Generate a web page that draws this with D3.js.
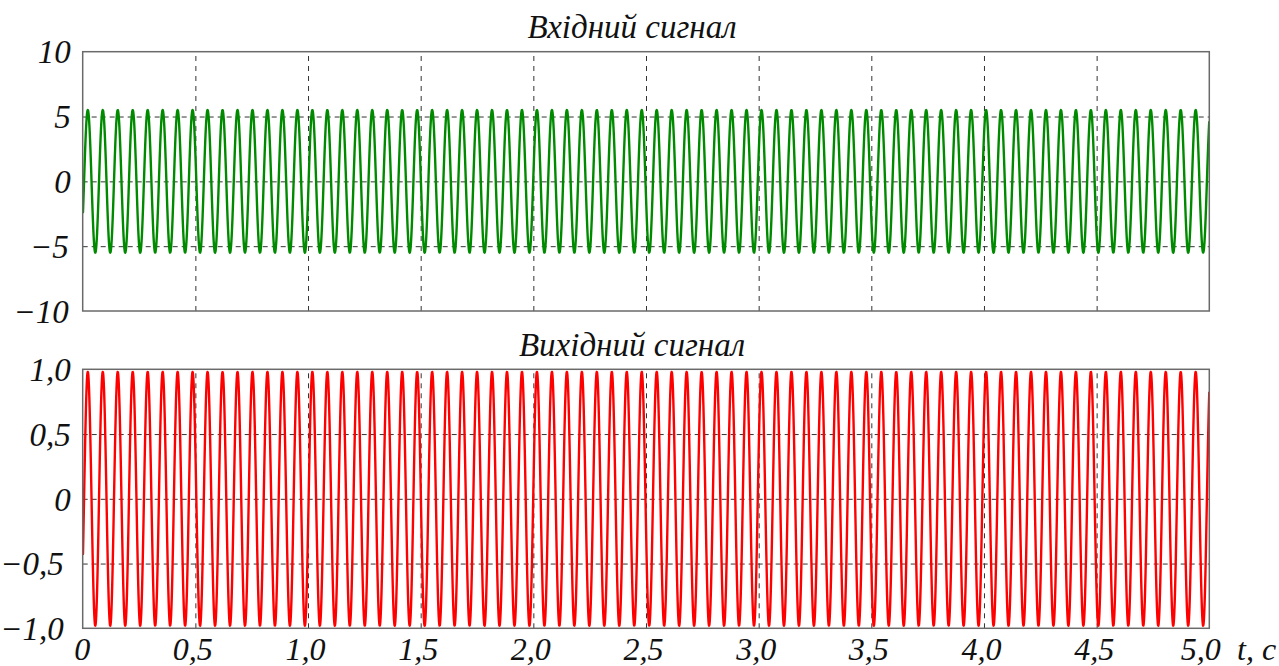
<!DOCTYPE html>
<html>
<head>
<meta charset="utf-8">
<script src="https://cdn.jsdelivr.net/npm/d3@7"></script>
<style>
  html, body { margin: 0; padding: 0; background: #fff; }
</style>
</head>
<body>
<svg id="chart" width="1279" height="666"></svg>
<script>
// ---- data ----
const panelTitles = ["Вхідний сигнал", "Вихідний сигнал"];
const seriesColors = ["#008a00", "#ff0000"];
const timeDomain = [0, 5];
const xTicks = [0, 0.5, 1.0, 1.5, 2.0, 2.5, 3.0, 3.5, 4.0, 4.5, 5.0];
const xTickLabels = ["0", "0,5", "1,0", "1,5", "2,0", "2,5", "3,0", "3,5", "4,0", "4,5", "5,0"];
const xAxisLabel = "t, c";
const inputDomain = [-10, 10];
const inputTicks = [10, 5, 0, -5, -10];
const inputTickLabels = ["10", "5", "0", "−5", "−10"];
const outputDomain = [-1, 1];
const outputTicks = [1, 0.5, 0, -0.5, -1];
const outputTickLabels = ["1,0", "0,5", "0", "−0,5", "−1,0"];
// sinusoidal signals: amplitude, frequency (Hz), delay (s)
const signalAmplitudes = [5.5, 0.98];
const signalFrequencyHz = [15.05, 15.05];
const signalDelay = [0.006, 0.006];

// ---- layout ----
const FONT = "'Liberation Serif', 'Times New Roman', Times, serif";
const svg = d3.select("#chart");
const left = 82.7, right = 1209.3;
const panels = [
  { top: 51.7, bottom: 311, domain: inputDomain, ticks: inputTicks, labels: inputTickLabels, negDx: -2, titleY: 38 },
  { top: 369.3, bottom: 628.3, domain: outputDomain, ticks: outputTicks, labels: outputTickLabels, negDx: -7, titleY: 356 }
];

const x = d3.scaleLinear().domain(timeDomain).range([left, right]);

function styleText(sel, size) {
  sel.attr("font-family", FONT).attr("font-style", "italic").attr("font-size", size).attr("fill", "#111");
}

panels.forEach((p, i) => {
  const y = d3.scaleLinear().domain(p.domain).range([p.bottom, p.top]);
  const g = svg.append("g");

  const n = 4000;
  const pts = d3.range(n + 1).map(k => {
    const t = timeDomain[0] + (timeDomain[1] - timeDomain[0]) * k / n;
    return [t, signalAmplitudes[i] * Math.sin(2 * Math.PI * signalFrequencyHz[i] * (t - signalDelay[i]))];
  });
  pts[0][1] = 0;

  const clipId = "clip" + i;
  svg.append("clipPath").attr("id", clipId).append("rect")
    .attr("x", left).attr("y", p.top - 2).attr("width", right - left).attr("height", p.bottom - p.top + 4);

  const vGrid = d3.axisBottom(x).tickValues(xTicks.slice(1, -1)).tickSize(-(p.bottom - p.top)).tickFormat("");
  g.append("g").attr("transform", `translate(0,${p.bottom})`).call(vGrid)
    .call(s => s.select(".domain").remove())
    .call(s => s.selectAll(".tick line").attr("stroke", "#333").attr("stroke-width", 1).attr("stroke-dasharray", "5,5"));

  const hGrid = d3.axisLeft(y).tickValues(p.ticks.slice(1, -1)).tickSize(-(right - left)).tickFormat("");
  g.append("g").attr("transform", `translate(${left},0)`).call(hGrid)
    .call(s => s.select(".domain").remove())
    .call(s => s.selectAll(".tick line").attr("stroke", "#333").attr("stroke-width", 1).attr("stroke-dasharray", "5,4"));

  const line = d3.line().x(d => x(d[0])).y(d => y(d[1]));
  g.append("path").datum(pts).attr("d", line)
    .attr("fill", "none").attr("stroke", seriesColors[i]).attr("stroke-width", 2.4)
    .attr("stroke-linejoin", "round").attr("clip-path", `url(#${clipId})`);

  g.append("rect").attr("x", left).attr("y", p.top).attr("width", right - left).attr("height", p.bottom - p.top)
    .attr("fill", "none").attr("stroke", "#6a6a6a").attr("stroke-width", 1.5);

  const yAxis = d3.axisLeft(y).tickValues(p.ticks).tickSize(0).tickPadding(12)
    .tickFormat((d, k) => p.labels[k]);
  g.append("g").attr("transform", `translate(${left},0)`).call(yAxis)
    .attr("font-family", FONT)
    .call(s => s.select(".domain").remove())
    .call(s => s.selectAll(".tick text").call(styleText, 33)
      .attr("dy", "0.34em")
      .attr("dx", d => d < 0 ? p.negDx : 0));

  g.append("text").attr("x", 632).attr("y", p.titleY).attr("text-anchor", "middle")
    .call(styleText, 33).text(panelTitles[i]);
});

const xAxis = d3.axisBottom(x).tickValues(xTicks).tickSize(0).tickPadding(0)
  .tickFormat((d, k) => xTickLabels[k]);
svg.append("g").attr("transform", `translate(0,${panels[1].bottom})`).call(xAxis)
  .attr("font-family", FONT)
  .call(s => s.select(".domain").remove())
  .call(s => s.selectAll(".tick text").call(styleText, 32)
    .attr("y", 32).attr("dy", 0)
    .attr("dx", (d, k) => k === xTicks.length - 1 ? -9 : (k === 0 ? -1 : -3)));

svg.append("text").attr("x", 1237).attr("y", 660).call(styleText, 32).text(xAxisLabel);
</script>
</body>
</html>
